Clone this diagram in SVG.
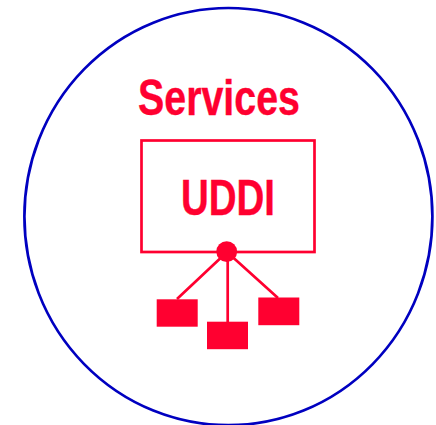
<svg xmlns="http://www.w3.org/2000/svg" width="436" height="425" viewBox="0 0 436 425">
<style>
.t{font-family:"Liberation Sans",Arial,sans-serif;font-weight:700;fill:#ff0030;stroke:#ff0030;stroke-width:.4;text-anchor:middle}
.l{stroke:#ff0030;stroke-width:2.700;fill:none}
.f{fill:#ff0030}
</style>
<rect width="436" height="425" fill="#fff"/>
<g id="boundary"><ellipse cx="228.400" cy="216.600" rx="204" ry="208.600" fill="none" stroke="#0000c0" stroke-width="2.700"/></g>
<g id="services-label"><text class="t" x="219" y="115.300" font-size="50" textLength="162" lengthAdjust="spacingAndGlyphs">Services</text></g>
<g id="uddi"><rect class="l" x="141.500" y="140.500" width="173" height="111.500"/><text class="t" x="228" y="215.300" font-size="50" textLength="94" lengthAdjust="spacingAndGlyphs">UDDI</text></g>
<g id="connectors"><path class="l" d="M227 252L177 299M227.700 252V322M227 252L278 298"/></g>
<g id="hub"><circle class="f" cx="226.700" cy="251.700" r="10.400"/></g>
<g id="box-left"><rect class="f" x="156.700" y="299.300" width="41" height="27.400"/></g>
<g id="box-middle"><rect class="f" x="207" y="321.700" width="41" height="27.500"/></g>
<g id="box-right"><rect class="f" x="258.300" y="297.500" width="41" height="27.700"/></g>
</svg>
